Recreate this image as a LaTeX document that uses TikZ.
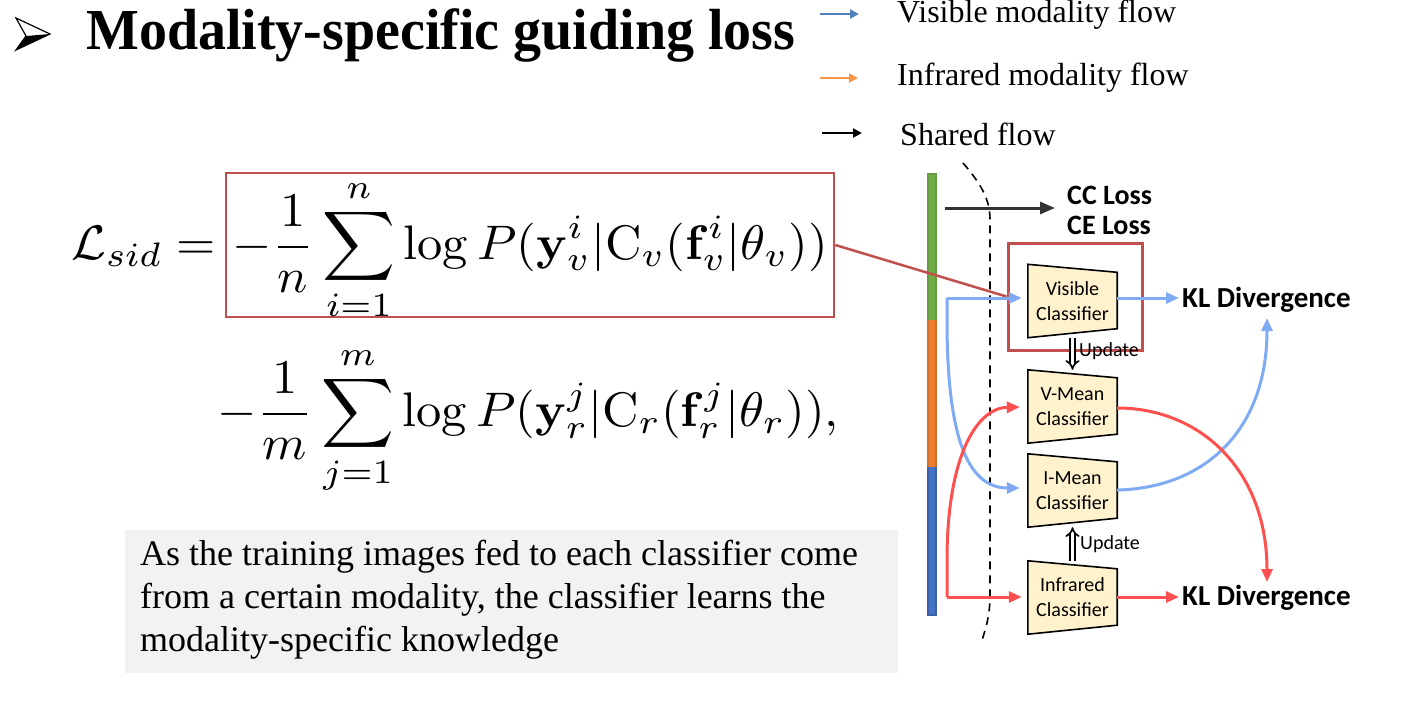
\documentclass[tikz,border=0pt]{standalone}
\usepackage[no-math]{fontspec}
\setmainfont{Liberation Serif}
\setsansfont{Carlito}
\usepackage{amsmath}
\usepackage{graphicx}
\usetikzlibrary{arrows.meta}
\definecolor{legblue}{HTML}{4F81BD}
\definecolor{legorange}{HTML}{F79646}
\definecolor{flowblue}{HTML}{7EABF3}
\definecolor{flowred}{HTML}{FF5050}
\definecolor{boxred}{HTML}{C0504D}
\definecolor{cream}{HTML}{FFF2CC}
\definecolor{bargreen}{HTML}{70AD47}
\definecolor{barorange}{HTML}{ED7D31}
\definecolor{barblue}{HTML}{4472C4}
\definecolor{graybox}{HTML}{F2F2F2}
\tikzset{
  legarrow/.style={line width=2.5pt,-{Triangle[length=9pt,width=9pt]}},
  flow/.style={line width=3pt,-{Triangle[length=13pt,width=11pt]}},
  cls/.style={minimum width=89pt,minimum height=73pt,inner sep=0pt,align=center,
    font=\fontsize{20}{25}\selectfont\sffamily},
  trap/.style={draw=black,line width=1.6pt,fill=cream},
  kl/.style={font=\fontsize{29}{30}\selectfont\sffamily\bfseries,anchor=west,inner sep=0pt},
  upd/.style={double,double distance=3pt,line width=1.7pt,-{Implies}},
  updlabel/.style={font=\fontsize{20}{22}\selectfont\sffamily,anchor=west,inner sep=0pt},
  legtext/.style={font=\fontsize{32}{34}\selectfont,anchor=west,inner sep=0pt},
  mathtxt/.style={inner sep=0pt,font=\fontsize{10}{12}\selectfont}
}
\newcommand{\eqscale}[1]{\scalebox{5.05}[4.85]{$\displaystyle #1$}}
\newcommand{\trapdraw}[1]{\draw[trap] (#1.north west) -- ([yshift=-8pt]#1.north east) -- ([yshift=9pt]#1.south east) -- (#1.south west) -- cycle;}
\begin{document}
\begin{tikzpicture}[x=1pt,y=-1pt]
\useasboundingbox (0,0) rectangle (1426,713);
% title bullet
\fill[black] (16,50) -- (50,34) -- (26,36) -- cycle;
\draw[line width=1.2pt,line join=miter] (16,18) -- (50,34) -- (16,50) -- (26,36) -- cycle;
\node[anchor=west,inner sep=0pt] (title) at (86,35) {\scalebox{0.965}[1]{\fontsize{58}{58}\selectfont\bfseries Modality-specific guiding loss}};
% legend
\node[legtext] (legv) at (897,15) {Visible modality flow};
\node[legtext] (legi) at (897,78) {Infrared modality flow};
\node[legtext] (legs) at (900,134) {Shared flow};
\coordinate (lv) at (820,14);
\coordinate (li) at (820,78);
\coordinate (ls) at (822,133);
\draw[legarrow,legblue] (lv) -- ([xshift=-38pt]legv.west |- lv);
\draw[legarrow,legorange] (li) -- ([xshift=-39pt]legi.west |- li);
\draw[legarrow,black] (ls) -- ([xshift=-38pt]legs.west |- ls);
% equation
\node[mathtxt,anchor=base west] (lhs) at (71,259) {\eqscale{\mathcal{L}_{sid} =}};
\node[draw=boxred,line width=2.5pt,minimum width=608pt,minimum height=144pt,inner sep=0pt] (eqbox) at (530,245) {};
\node[mathtxt,anchor=base west] (t1) at (232,259) {\eqscale{-\frac{1}{n}\sum_{i=1}^{n}\log P(\mathbf{y}_v^i|\mathrm{C}_v(\mathbf{f}_v^i|\theta_v))}};
\node[mathtxt,anchor=base west] (t2) at (217,426) {\eqscale{-\frac{1}{m}\sum_{j=1}^{m}\log P(\mathbf{y}_r^j|\mathrm{C}_r(\mathbf{f}_r^j|\theta_r)),}};
% gray text box
\node[fill=graybox,minimum width=773pt,minimum height=143pt,inner sep=0pt] (gbox) at (511.5,601.5) {};
\node[anchor=north west,inner sep=0pt,align=left,font=\fontsize{36}{43}\selectfont] (gtext) at (140,540) {As the training images fed to each classifier come\\from a certain modality, the classifier learns the\\modality-specific knowledge};
% bar
\fill[bargreen!90!black] (927,173) rectangle (937,320);
\fill[bargreen] (929,175) rectangle (935,320);
\fill[barorange!90!black] (927,320) rectangle (937,467);
\fill[barorange] (929,320) rectangle (935,467);
\fill[barblue!85!black] (927,467) rectangle (937,616);
\fill[barblue] (929,467) rectangle (935,614);
% dashed boundary
\draw[dashed,line width=1.6pt,dash pattern=on 8pt off 6pt] (963,163) .. controls (982,185) and (990,200) .. (990,220) -- (990,595) .. controls (990,615) and (986,628) .. (982,640);
% shared arrow
\coordinate (sh) at (945,208);
\node[font=\fontsize{28}{30}\selectfont\sffamily\bfseries,anchor=west,inner sep=0pt,align=left] (cc) at (1067,210) {CC Loss\\CE Loss};
\draw[line width=3pt,black!80,-{Triangle[length=15pt,width=12pt]}] (sh) -- ([xshift=-12pt]cc.west |- sh);
% classifiers
\node[cls] (vis) at (1072.5,301) {Visible\\Classifier};
\node[cls] (vmean) at (1072.5,406.5) {V-Mean\\Classifier};
\node[cls] (imean) at (1072.5,490.5) {I-Mean\\Classifier};
\node[cls] (infra) at (1072.5,597.5) {Infrared\\Classifier};
\trapdraw{vis}\trapdraw{vmean}\trapdraw{imean}\trapdraw{infra}
\node[cls] at (vis) {Visible\\Classifier};
\node[cls] at (vmean) {V-Mean\\Classifier};
\node[cls] at (imean) {I-Mean\\Classifier};
\node[cls] at (infra) {Infrared\\Classifier};
% KL
\node[kl] (kl1) at (1182,300) {KL Divergence};
\node[kl] (kl2) at (1182,598) {KL Divergence};
% callout box
\node[draw=boxred,line width=3pt,minimum width=134pt,minimum height=107pt,inner sep=0pt] (callout) at (1075,296.5) {};
\draw[boxred,line width=2.5pt] (eqbox.east) -- (callout.west);
% update arrows
\draw[upd] (vis.south) -- (vmean.north);
\node[updlabel] (u1) at (1079,351) {Update};
\draw[upd] (infra.north) -- (imean.south);
\node[updlabel] (u2) at (1080,544) {Update};
% blue flows
\coordinate (bv) at (947,298);
\draw[flow,flowblue] (bv) -- ([xshift=-6pt]vis.west |- bv);
\draw[flow,flowblue] (bv) -- (947,320) .. controls (947,430) and (965,488) .. ([xshift=-8pt]imean.west |- 0,488);
\draw[flow,flowblue] (vis.east |- 0,298) -- ([xshift=-3pt]kl1.west |- 0,298);
\draw[flow,flowblue] (imean.east |- 0,490) .. controls (1205,488) and (1267,430) .. (1267,318);
% red flows
\coordinate (br) at (947,597);
\draw[flow,flowred] (br) -- ([xshift=-6pt]infra.west |- br);
\draw[flow,flowred] (br) -- (947,560) .. controls (947,460) and (975,408) .. ([xshift=-8pt]vmean.west |- 0,407);
\draw[flow,flowred] (infra.east |- 0,597) -- ([xshift=-3pt]kl2.west |- 0,597);
\draw[flow,flowred] (vmean.east |- 0,408) .. controls (1200,408) and (1267,470) .. (1267,582);
\end{tikzpicture}
\end{document}
